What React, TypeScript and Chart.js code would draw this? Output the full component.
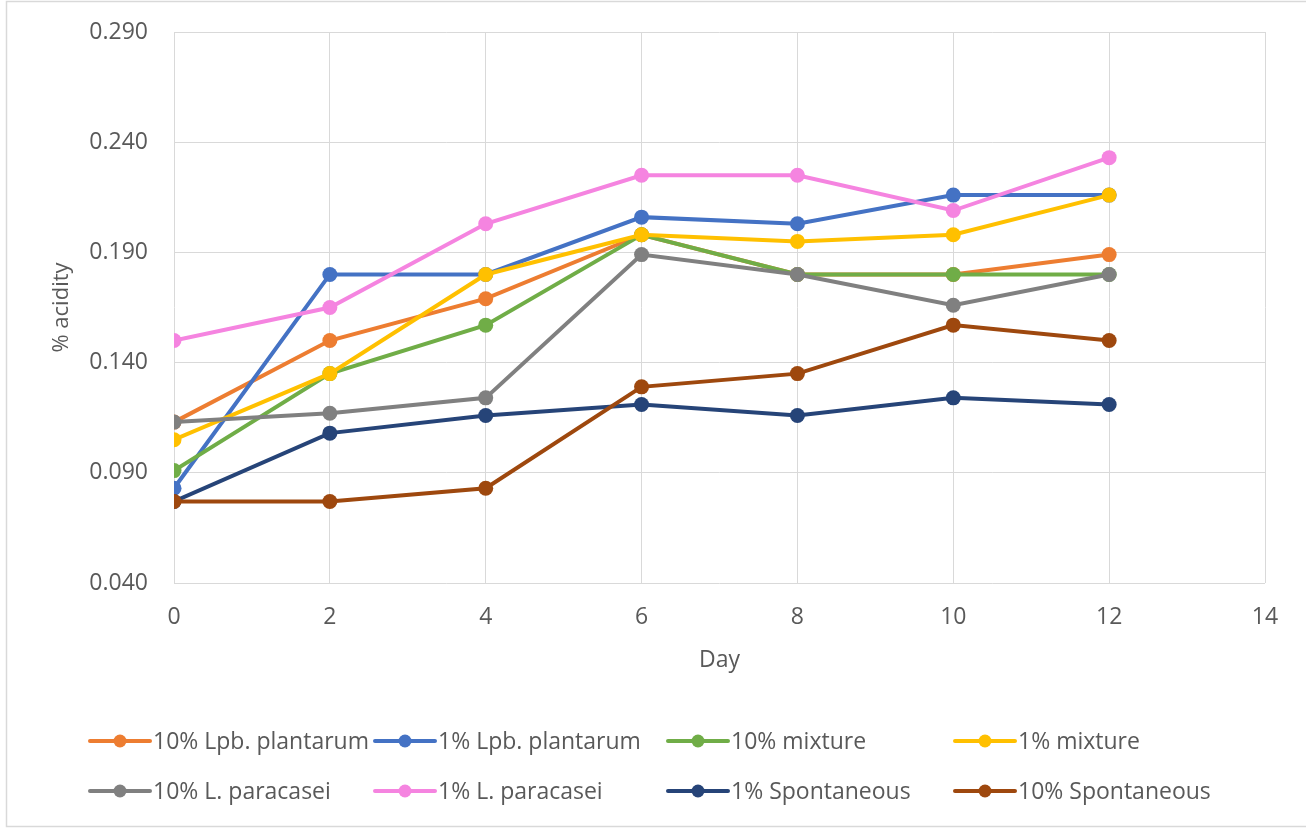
import { useEffect, useRef } from "react";
import { Chart, registerables } from "chart.js";

Chart.register(...registerables);

// Sampling days and the acidity measured for each culture
const days = [0, 2, 4, 6, 8, 10, 12];
const lpb10 = [0.113, 0.150, 0.169, 0.198, 0.180, 0.180, 0.189];
const lpb1 = [0.083, 0.180, 0.180, 0.206, 0.203, 0.216, 0.216];
const mix10 = [0.091, 0.135, 0.157, 0.198, 0.180, 0.180, 0.180];
const mix1 = [0.105, 0.135, 0.180, 0.198, 0.195, 0.198, 0.216];
const para10 = [0.113, 0.117, 0.124, 0.189, 0.180, 0.166, 0.180];
const para1 = [0.150, 0.165, 0.203, 0.225, 0.225, 0.209, 0.233];
const spon1 = [0.077, 0.108, 0.116, 0.121, 0.116, 0.124, 0.121];
const spon10 = [0.077, 0.077, 0.083, 0.129, 0.135, 0.157, 0.150];

const seriesNames = [
  "10% Lpb. plantarum",
  "1% Lpb. plantarum",
  "10% mixture",
  "1% mixture",
  "10% L. paracasei",
  "1% L. paracasei",
  "1% Spontaneous",
  "10% Spontaneous",
];
const seriesValues = [lpb10, lpb1, mix10, mix1, para10, para1, spon1, spon10];
const seriesColors = [
  "#ED7D31",
  "#4472C4",
  "#70AD47",
  "#FFC000",
  "#808080",
  "#F584E0",
  "#264478",
  "#9E480E",
];

const xTicks = [0, 2, 4, 6, 8, 10, 12, 14];
const yTicks = [0.04, 0.09, 0.14, 0.19, 0.24, 0.29];

const FONT = "'Open Sans', sans-serif";
const TEXT = "#595959";
const GRID = "#d9d9d9";

const W = 1306;
const H = 829;

// White background plus the thin frame around the whole chart
const framePlugin = {
  id: "frame",
  beforeDraw(chart: any) {
    const ctx = chart.ctx;
    ctx.save();
    ctx.fillStyle = "#ffffff";
    ctx.fillRect(0, 0, chart.width, chart.height);
    ctx.strokeStyle = GRID;
    ctx.lineWidth = 1.5;
    ctx.strokeRect(6.5, 1.5, chart.width + 10, chart.height - 4);
    ctx.restore();
  },
};

// Legend laid out as a 4-column grid below the axis title
const gridLegendPlugin = {
  id: "gridLegend",
  afterDraw(chart: any) {
    const ctx = chart.ctx;
    const cols = [90, 375, 668, 955];
    const rows = [741, 791];
    ctx.save();
    ctx.font = `23px ${FONT}`;
    ctx.textBaseline = "middle";
    ctx.textAlign = "left";
    seriesNames.forEach((name, i) => {
      const x = cols[i % 4];
      const y = rows[Math.floor(i / 4)];
      const color = seriesColors[i];
      ctx.strokeStyle = color;
      ctx.lineWidth = 4;
      ctx.lineCap = "round";
      ctx.beginPath();
      ctx.moveTo(x, y);
      ctx.lineTo(x + 60, y);
      ctx.stroke();
      ctx.fillStyle = color;
      ctx.beginPath();
      ctx.arc(x + 30, y, 6.5, 0, Math.PI * 2);
      ctx.fill();
      ctx.fillStyle = TEXT;
      ctx.fillText(name, x + 63, y + 1);
    });
    ctx.restore();
  },
};

export default function App() {
  const canvasRef = useRef<HTMLCanvasElement | null>(null);

  useEffect(() => {
    const canvas = canvasRef.current;
    if (!canvas) return;

    const datasets = seriesNames.map((name, i) => ({
      label: name,
      data: days.map((d, j) => ({ x: d, y: seriesValues[i][j] })),
      borderColor: seriesColors[i],
      backgroundColor: seriesColors[i],
      borderWidth: 4,
      pointRadius: 7.5,
      pointBorderWidth: 0,
      pointBackgroundColor: seriesColors[i],
      tension: 0,
      fill: false,
      order: seriesNames.length - i,
    }));

    const chart = new Chart(canvas, {
      type: "line",
      data: { datasets },
      plugins: [framePlugin, gridLegendPlugin],
      options: {
        responsive: false,
        animation: false,
        devicePixelRatio: 1,
        layout: { padding: { top: 32, right: 41, left: 0, bottom: 0 } },
        plugins: {
          legend: { display: false },
          tooltip: { enabled: false },
        },
        scales: {
          x: {
            type: "linear",
            min: 0,
            max: 14,
            afterFit(scale: any) {
              scale.height = H - 583;
            },
            afterBuildTicks(scale: any) {
              scale.ticks = xTicks.map((v) => ({ value: v }));
            },
            grid: { color: GRID, lineWidth: 1, drawTicks: false },
            border: { display: false },
            ticks: {
              color: TEXT,
              font: { family: FONT, size: 23 },
              padding: 21,
              maxRotation: 0,
            },
            title: {
              display: true,
              text: "Day",
              color: TEXT,
              font: { family: FONT, size: 23 },
              padding: { top: 0, bottom: 155 },
            },
          },
          y: {
            type: "linear",
            min: 0.04,
            max: 0.29,
            afterFit(scale: any) {
              scale.width = 174;
              // labels sit beside the axis, so they need no vertical room
              scale.paddingTop = 0;
              scale.paddingBottom = 0;
            },
            afterBuildTicks(scale: any) {
              scale.ticks = yTicks.map((v) => ({ value: v }));
            },
            grid: { color: GRID, lineWidth: 1, drawTicks: false },
            border: { display: false },
            ticks: {
              color: TEXT,
              font: { family: FONT, size: 23 },
              padding: 26,
              callback: (v: any) => Number(v).toFixed(3),
            },
            title: {
              display: true,
              text: "% acidity",
              color: TEXT,
              font: { family: FONT, size: 22 },
              padding: { top: 49, bottom: 0 },
            },
          },
        },
      },
    });

    return () => chart.destroy();
  }, []);

  return (
    <div style={{ position: "absolute", left: 0, top: 0, width: W, height: H }}>
      <canvas ref={canvasRef} width={W} height={H} style={{ width: W, height: H, display: "block" }} />
    </div>
  );
}
